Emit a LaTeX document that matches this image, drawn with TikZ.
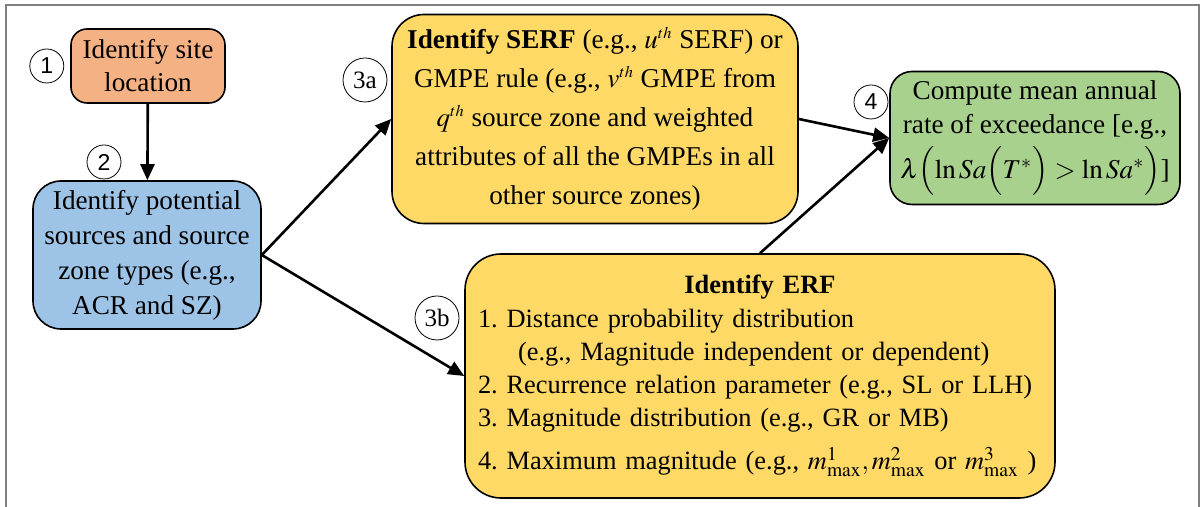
\documentclass[tikz,border=0pt]{standalone}
\usepackage{mathptmx}
\usepackage{fontspec}
\setmainfont{Liberation Serif}
\setsansfont{Liberation Sans}
\usetikzlibrary{positioning}
\usetikzlibrary{arrows.meta}
\frenchspacing
\definecolor{SiteOrange}{HTML}{F4B183}
\definecolor{SourceBlue}{HTML}{9DC3E6}
\definecolor{RuleYellow}{HTML}{FFD966}
\definecolor{RateGreen}{HTML}{A9D18E}
\definecolor{FrameGray}{HTML}{7F7F7F}
\newcommand{\ordth}{^{\scriptscriptstyle th}}
\tikzset{
  % connectors between the steps
  every edge/.append style={-{Triangle[length=8pt,width=7pt]},line width=1.3pt},
  % open frame round the whole chart
  frame/.style={FrameGray,line width=1pt},
}
\tikzset{stepbox/.style={
    draw=black,fill=#1,line width=0.8pt,
    align=center,inner sep=4pt,
    font=\fontsize{13.6}{16.5}\selectfont,
  }
}
\tikzset{site/.style={stepbox=SiteOrange,rounded corners=8pt,
    minimum width=77pt,minimum height=37pt}}
\tikzset{sources/.style={stepbox=SourceBlue,rounded corners=14pt,
    minimum width=114pt,minimum height=74pt,
    font=\fontsize{13.6}{17.5}\selectfont}}
\tikzset{rule/.style={stepbox=RuleYellow,rounded corners=16pt}}
\tikzset{rate/.style={stepbox=RateGreen,rounded corners=11pt,
    minimum width=145pt,minimum height=66.5pt,
    font=\fontsize{13.6}{17}\selectfont}}
% numbers next to the steps
\tikzset{digit/.style={circle,draw,thin,inner sep=0pt,minimum size=17pt,
    font=\sffamily\fontsize{11.5}{11.5}\selectfont}}
\tikzset{tag/.style={circle,draw,thin,inner sep=0pt,minimum size=22pt,
    font=\fontsize{12.5}{12.5}\selectfont}}
\begin{document}
\begin{tikzpicture}[x=0.5pt,y=-0.5pt]
  \useasboundingbox (0,0) rectangle (1201,507);
  \draw[frame] (6,507) -- (6,5) -- (1199,5) -- (1199,507);
  \node[site] (site) at (148,66) {Identify site\\location};
  \node[sources] (sources) at (147,255)
    {Identify potential\\sources and source\\zone types (e.g.,\\ACR and SZ)};
  \node[rule,minimum width=203pt,minimum height=104.5pt,
    font=\fontsize{13.6}{19.5}\selectfont] (serf) at (595,119)
    {\textbf{Identify SERF} (e.g., $u\ordth$ SERF) or\\
     GMPE rule (e.g., $v\ordth$ GMPE from\\
     $q\ordth$ source zone and weighted\\
     attributes of all the GMPEs in all\\
     other source zones)};
  \node[rate] (rate) at (1035,138)
    {Compute mean annual\\rate of exceedance [e.g.,\\[3pt]
     $\lambda\Bigl(\ln Sa\Bigl(T^{*}\Bigr)>\ln Sa^{*}\Bigr)$]};
  \node[rule,rounded corners=18pt,minimum width=295pt,minimum height=122pt,
    text width=282pt,align=left,font=\fontsize{13.2}{16.6}\selectfont]
    (erf) at (760,376)
    {{\centering\textbf{Identify ERF}\par}
     1. Distance probability distribution\\
     \hspace*{20pt}(e.g., Magnitude independent or dependent)\\
     2. Recurrence relation parameter (e.g., SL or LLH)\\
     3. Magnitude distribution (e.g., GR or MB)\\[5pt]
     4. Maximum magnitude (e.g., $m^{1}_{\max},m^{2}_{\max}$ or $m^{3}_{\max}$ )};
  \node[digit,left=3pt of site] (n1) {1};
  \node[digit] (n2) at (104,162) {2};
  \node[tag] (n3a) at (365,80) {3a};
  \node[tag] (n3b) at (437,318) {3b};
  \node[digit] (n4) at (871,102) {4};
  \path (site) edge (sources)
        (sources.east) edge (serf.west) edge (erf.west)
        (serf.east) edge (rate.west)
        (erf.north) edge (rate.west);
\end{tikzpicture}
\end{document}
